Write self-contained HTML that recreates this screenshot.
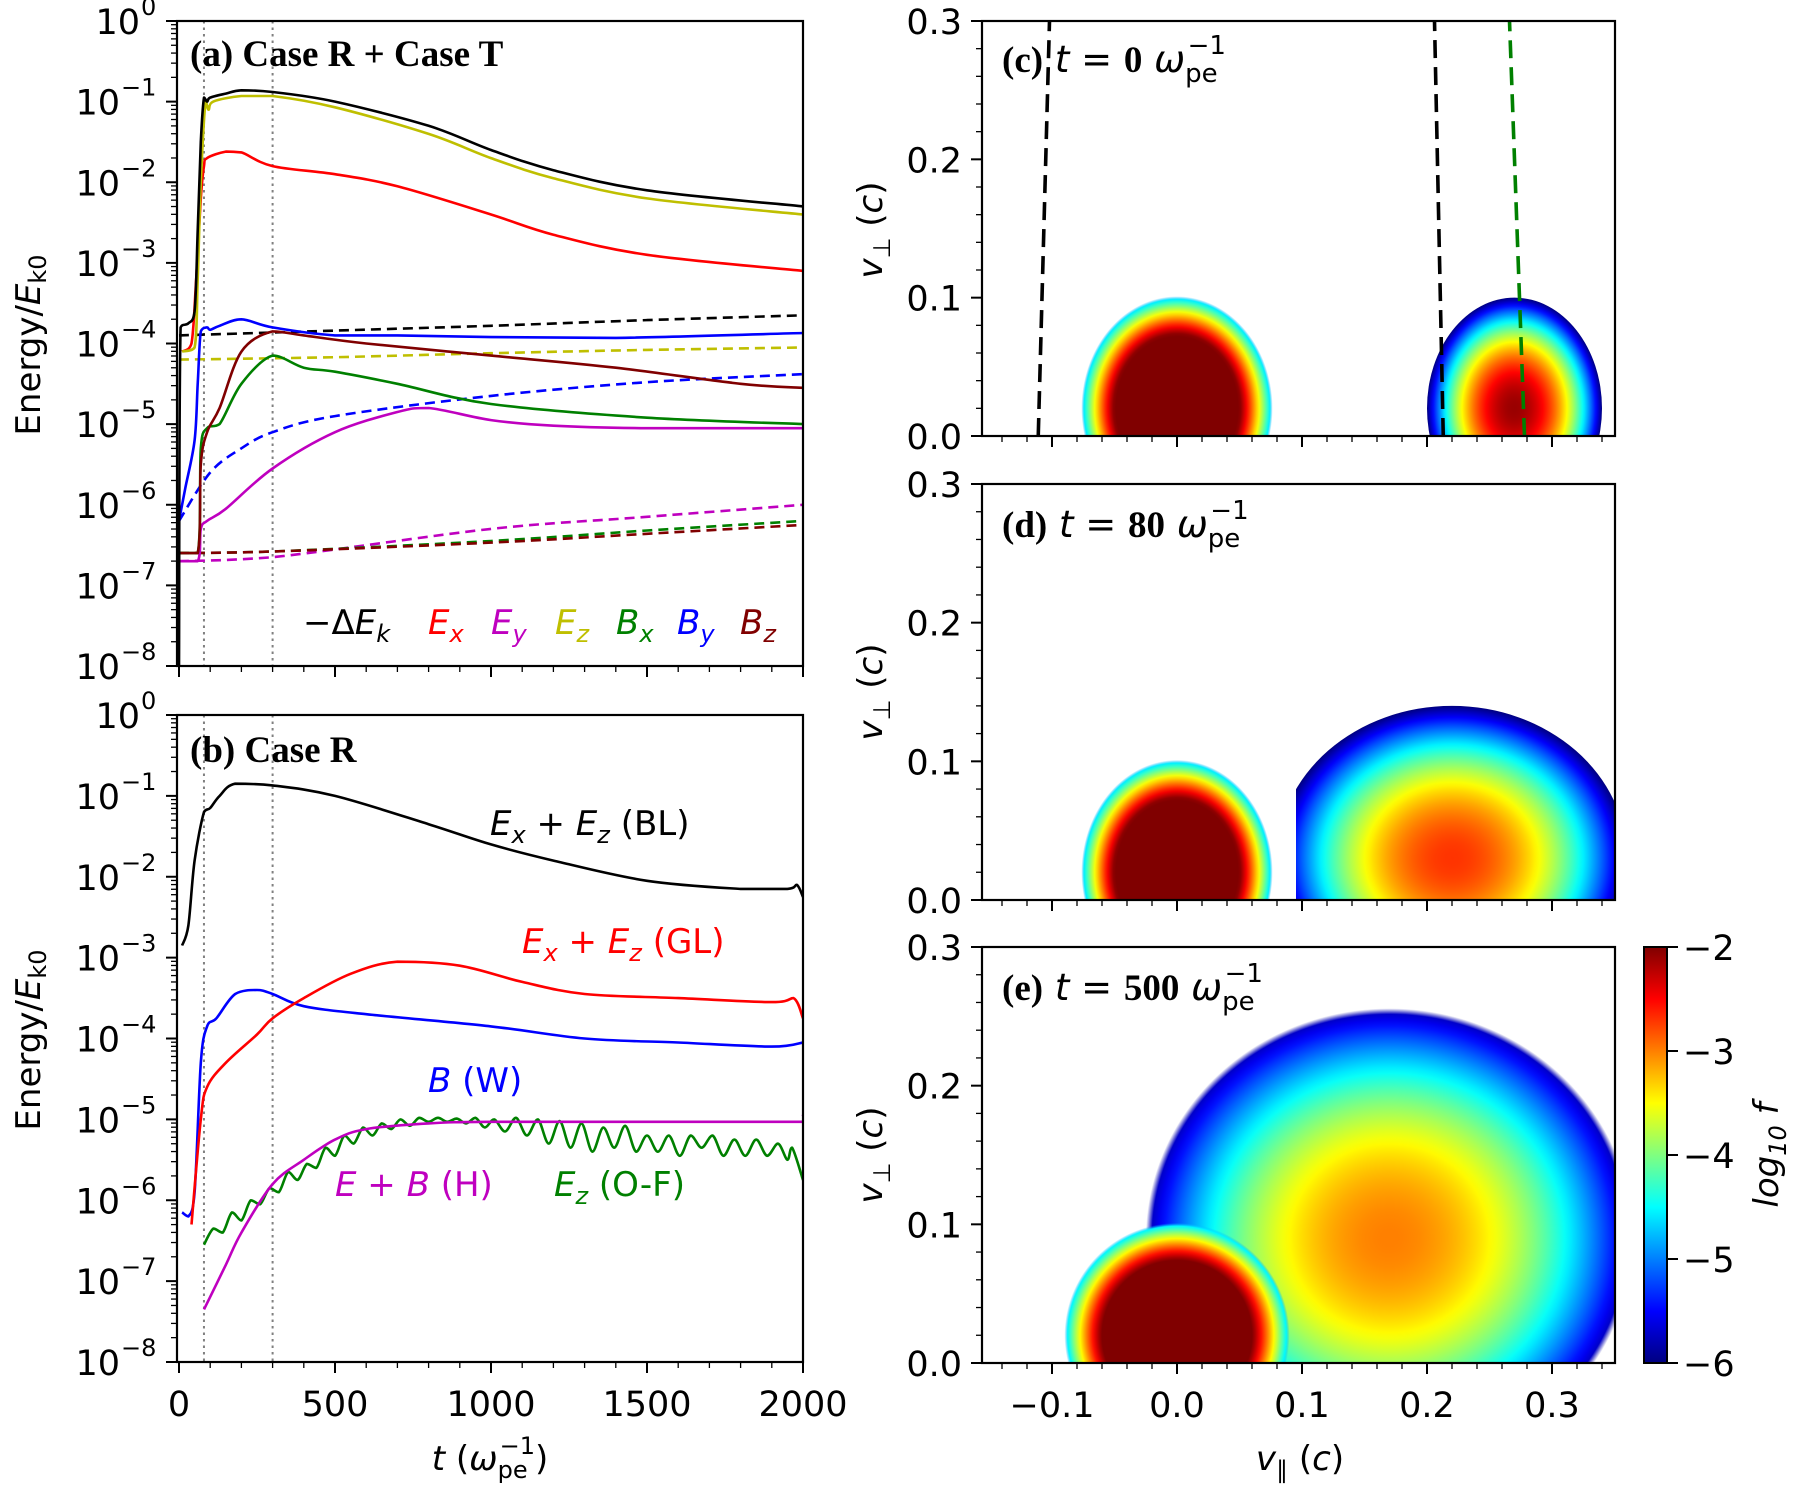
<!DOCTYPE html>
<html><head><meta charset="utf-8"><style>
html,body{margin:0;padding:0;background:#fff}
svg{display:block}
text{font-family:"DejaVu Sans","Liberation Sans",sans-serif}
.tl{font-size:35px}
.ex{font-size:24px}
.ttl{font-family:"Liberation Serif",serif;font-weight:bold;font-size:37px}
</style></head><body>
<svg id="fig" width="1800" height="1495" viewBox="0 0 1800 1495" xmlns="http://www.w3.org/2000/svg">
<defs>
<linearGradient id="jet" x1="0" y1="1" x2="0" y2="0">
<stop offset="0" stop-color="#000080"/><stop offset="0.125" stop-color="#0000ff"/><stop offset="0.375" stop-color="#00ffff"/><stop offset="0.625" stop-color="#ffff00"/><stop offset="0.875" stop-color="#ff0000"/><stop offset="1" stop-color="#800000"/>
</linearGradient>
<clipPath id="clipA"><rect x="177" y="21" width="626" height="645"/></clipPath>
<clipPath id="clipB"><rect x="177" y="715" width="626" height="647"/></clipPath>
<clipPath id="clipC"><rect x="982" y="21" width="633" height="415"/></clipPath>
<clipPath id="clipD"><rect x="982" y="484" width="633" height="416"/></clipPath>
<clipPath id="clipD2"><rect x="1296" y="484" width="319" height="416"/></clipPath>
<clipPath id="clipE"><rect x="982" y="947" width="633" height="416"/></clipPath>
</defs>
<g id="root"></g>
</svg>
<script>
// ---------- Panel (a) data: t and log10(Energy/Ek0) ----------
const tA_dEk=[0,5,30,50,60,70,80,90,100,150,200,300,500,800,1000,1200,1500,2000];
const vA_dEk=[-8,-3.8,-3.75,-3.6,-2.6,-1.5,-0.95,-1.0,-0.95,-0.9,-0.86,-0.88,-1.0,-1.3,-1.6,-1.85,-2.1,-2.3];
const tA_Ez=[10,50,60,70,85,95,110,200,300,500,800,1000,1200,1500,2000];
const vA_Ez=[-4.1,-4.05,-3.2,-2.0,-1.0,-1.1,-1.0,-0.93,-0.93,-1.07,-1.4,-1.7,-1.95,-2.2,-2.4];
const tA_Ex=[10,40,55,70,80,90,150,200,300,500,700,1000,1200,1500,2000];
const vA_Ex=[-4.1,-4.0,-3.2,-2.2,-1.8,-1.7,-1.62,-1.63,-1.8,-1.9,-2.05,-2.4,-2.65,-2.9,-3.1];
const tA_By=[0,20,50,60,70,90,100,130,200,300,500,700,1000,1400,2000];
const vA_By=[-6.2,-5.8,-5.2,-4.5,-3.85,-3.8,-3.83,-3.78,-3.7,-3.8,-3.9,-3.9,-3.92,-3.93,-3.87];
const tA_Bz=[0,60,70,90,130,200,300,400,600,1000,1400,1800,2000];
const vA_Bz=[-6.6,-6.6,-5.5,-5.1,-4.8,-4.1,-3.85,-3.9,-4.0,-4.15,-4.3,-4.5,-4.55];
const tA_Bx=[0,60,70,90,130,200,300,400,500,700,1000,1500,2000];
const vA_Bx=[-6.6,-6.6,-5.3,-5.05,-5.0,-4.5,-4.15,-4.3,-4.35,-4.5,-4.75,-4.92,-5.0];
const tA_Ey=[0,60,70,90,150,300,500,700,800,1000,1200,1500,2000];
const vA_Ey=[-6.7,-6.7,-6.3,-6.2,-6.05,-5.55,-5.1,-4.85,-4.8,-4.95,-5.02,-5.05,-5.05];
const tA_dEkT=[0,500,1000,1500,2000];
const vA_dEkT=[-3.9,-3.84,-3.78,-3.71,-3.65];
const tA_EzT=[0,500,1000,1500,2000];
const vA_EzT=[-4.2,-4.17,-4.12,-4.08,-4.05];
const tA_ByT=[0,100,200,300,500,1000,1500,2000];
const vA_ByT=[-6.2,-5.6,-5.3,-5.1,-4.9,-4.65,-4.48,-4.38];
const tA_EyT=[0,300,1000,1500,2000];
const vA_EyT=[-6.7,-6.65,-6.3,-6.15,-6.0];
const tA_BxT=[0,300,1000,1500,2000];
const vA_BxT=[-6.6,-6.58,-6.45,-6.32,-6.2];
const tA_BzT=[0,300,1000,1500,2000];
const vA_BzT=[-6.6,-6.58,-6.47,-6.36,-6.25];
// ---------- Panel (b) data ----------
const tB_BL=[10,30,50,80,100,130,180,300,500,800,1000,1200,1500,1800,1950,1980,2000];
const vB_BL=[-2.85,-2.6,-1.8,-1.2,-1.15,-1.0,-0.85,-0.87,-1.0,-1.35,-1.6,-1.8,-2.05,-2.15,-2.15,-2.1,-2.25];
const tB_GL=[40,70,90,150,250,300,400,550,700,900,1100,1300,1600,1900,1970,2000];
const vB_GL=[-6.3,-5.0,-4.6,-4.3,-3.95,-3.75,-3.5,-3.2,-3.05,-3.1,-3.3,-3.45,-3.5,-3.55,-3.5,-3.75];
const tB_W=[10,30,50,70,90,120,180,250,300,400,600,1000,1300,1600,1900,2000];
const vB_W=[-6.15,-6.2,-5.9,-4.3,-3.85,-3.75,-3.45,-3.4,-3.45,-3.6,-3.7,-3.85,-4.0,-4.05,-4.1,-4.05];
const tB_H=[80,150,200,300,400,500,600,800,1000,1500,1990,2000];
const vB_H=[-7.35,-6.8,-6.4,-5.8,-5.5,-5.25,-5.12,-5.05,-5.03,-5.03,-5.03,-4.95];
const tB_OF=[80,110,140,170,200,230,260,290,320,350,380,410,440,470,500,530,560,590,620,650,680,710,740,770,800,830,860,890,920,950,980,1010,1045,1080,1115,1150,1185,1220,1255,1290,1325,1360,1395,1430,1465,1500,1535,1570,1605,1640,1675,1710,1745,1780,1815,1850,1885,1920,1950,1965,2000];
const vB_OF=[-6.55,-6.35,-6.4,-6.15,-6.25,-6.0,-6.05,-5.85,-5.9,-5.65,-5.75,-5.55,-5.6,-5.35,-5.45,-5.2,-5.3,-5.1,-5.2,-5.05,-5.12,-5.0,-5.08,-4.98,-5.03,-4.98,-5.03,-4.99,-5.05,-4.98,-5.1,-5.0,-5.15,-4.98,-5.2,-5.0,-5.3,-5.02,-5.35,-5.05,-5.4,-5.1,-5.35,-5.08,-5.4,-5.2,-5.4,-5.2,-5.45,-5.2,-5.35,-5.2,-5.45,-5.25,-5.45,-5.25,-5.45,-5.3,-5.5,-5.35,-5.75];
const tDotted=[80,300];
const xTickT=[0,500,1000,1500,2000];
// ---------- Distribution blobs (c,d,e): centre, extents, core log f, floor ----------
const blobPanel=['c','c','d','d','e','e'];
const blobCx=[0,0.27,0,0.22,0.17,0];
const blobCy=[0.02,0.02,0.02,0.03,0.09,0.02];
const blobRx=[0.085,0.07,0.085,0.14,0.2,0.1];
const blobRy=[0.09,0.08,0.09,0.11,0.17,0.09];
const blobCore=[0.15,-2.1,0.15,-2.7,-3.0,0.3];
const blobFloor=[-4.7,-6,-4.7,-6,-5.8,-4.7];
// dashed resonance lines in (c)
const lineX0=[-0.111,0.213,0.278];
const lineX1=[-0.102,0.206,0.266];
const lineCol=['#000','#000','#008000'];
const vTicks=[-0.1,0,0.1,0.2,0.3];
const vpTicks=[0,0.1,0.2,0.3];
const cbTicks=[-2,-3,-4,-5,-6];

const NS='http://www.w3.org/2000/svg';
const root=document.getElementById('root');
function mk(tag,attrs,parent){const e=document.createElementNS(NS,tag);for(const k in attrs)e.setAttribute(k,attrs[k]);(parent||root).appendChild(e);return e;}

const AX={l:177,r:803,t0:179};
function tx(t){return AX.t0+t*(AX.r-AX.t0)/2000;}
function yLog(top,bot){return v=>top+(-v)*(bot-top)/8;}
const yA=yLog(21,666), yB=yLog(715,1362);

function clampv(v,a,b){const lo=Math.min(a,b),hi=Math.max(a,b);return Math.max(lo,Math.min(hi,v));}
function smoothPath(pts){
  let d='M'+pts[0][0].toFixed(1)+','+pts[0][1].toFixed(1);
  for(let i=0;i<pts.length-1;i++){
    const p0=pts[i-1]||pts[i],p1=pts[i],p2=pts[i+1],p3=pts[i+2]||p2;
    const c1=[p1[0]+(p2[0]-p0[0])/6,clampv(p1[1]+(p2[1]-p0[1])/6,p1[1],p2[1])];
    const c2=[p2[0]-(p3[0]-p1[0])/6,clampv(p2[1]-(p3[1]-p1[1])/6,p1[1],p2[1])];
    d+='C'+c1[0].toFixed(1)+','+c1[1].toFixed(1)+' '+c2[0].toFixed(1)+','+c2[1].toFixed(1)+' '+p2[0].toFixed(1)+','+p2[1].toFixed(1);
  }
  return d;
}
function series(ts,vs,yf,col,dash,clip,name){
  const pts=ts.map((t,i)=>[tx(t),yf(vs[i])]);
  const p=mk('path',{d:smoothPath(pts),fill:'none',stroke:col,'stroke-width':2.6,'stroke-linejoin':'round','clip-path':'url(#'+clip+')'});
  if(dash)p.setAttribute('stroke-dasharray','10,6');
  
  
}
function logAxis(top,bot,name){
  const yf=yLog(top,bot);
  const g=mk('g',{});
  
  
  for(let e=0;e>=-8;e--){
    const y=yf(e);
    mk('line',{x1:AX.l-11,x2:AX.l,y1:y,y2:y,stroke:'#000','stroke-width':2},g);
    const tt=mk('text',{x:e===0?140:120,y:y+13,'text-anchor':'end',class:'tl'},g);
    tt.textContent='10';
    const sp=mk('text',{x:e===0?141:121,y:y-6,class:'ex'},g);
    sp.textContent=e===0?'0':'\u2212'+(-e);
    if(e>-8)for(let m=2;m<10;m++){const ym=yf(e-1+Math.log10(m));mk('line',{x1:AX.l-6,x2:AX.l,y1:ym,y2:ym,stroke:'#000','stroke-width':1.3},g);}
  }
}
function tAxis(bot,labels,name){
  const g=mk('g',{});
  
  
  for(let t=0;t<=2000;t+=100){const x=tx(t);const maj=t%500===0;mk('line',{x1:x,x2:x,y1:bot,y2:bot+(maj?11:6),stroke:'#000','stroke-width':maj?2:1.3},g);}
  if(labels)xTickT.forEach(t=>{const tt=mk('text',{x:tx(t),y:bot+54,'text-anchor':'middle',class:'tl'},g);tt.textContent=t;});
}
function frame(x,y,w,h,name){const r=mk('rect',{x:x,y:y,width:w,height:h,fill:'none',stroke:'#000','stroke-width':2.2});}
function dotted(top,bot,clip){tDotted.forEach(t=>{const l=mk('line',{x1:tx(t),x2:tx(t),y1:top,y2:bot,stroke:'#808080','stroke-width':2,'stroke-dasharray':'2.5,4','clip-path':'url(#'+clip+')'});});}

// ---- Panel a ----
dotted(21,666,'clipA');
series(tA_dEkT,vA_dEkT,yA,'#000',true,'clipA','dEk-T-line');
series(tA_EzT,vA_EzT,yA,'#bfbf00',true,'clipA','Ez-T-line');
series(tA_ByT,vA_ByT,yA,'#0000ff',true,'clipA','By-T-line');
series(tA_EyT,vA_EyT,yA,'#bf00bf',true,'clipA','Ey-T-line');
series(tA_BxT,vA_BxT,yA,'#008000',true,'clipA','Bx-T-line');
series(tA_BzT,vA_BzT,yA,'#800000',true,'clipA','Bz-T-line');
series(tA_Ey,vA_Ey,yA,'#bf00bf',false,'clipA','Ey-line');
series(tA_Bx,vA_Bx,yA,'#008000',false,'clipA','Bx-line');
series(tA_Bz,vA_Bz,yA,'#800000',false,'clipA','Bz-line');
series(tA_By,vA_By,yA,'#0000ff',false,'clipA','By-line');
series(tA_Ex,vA_Ex,yA,'#ff0000',false,'clipA','Ex-line');
series(tA_Ez,vA_Ez,yA,'#bfbf00',false,'clipA','Ez-line');
series(tA_dEk,vA_dEk,yA,'#000',false,'clipA','dEk-line');
frame(177,21,626,645,'panel-a-frame');
logAxis(21,666,'panel-a-y-axis');
tAxis(666,false,'panel-a-x-axis');
// ---- Panel b ----
dotted(715,1362,'clipB');
series(tB_OF,vB_OF,yB,'#008000',false,'clipB','OF-line');
series(tB_H,vB_H,yB,'#bf00bf',false,'clipB','H-line');
series(tB_W,vB_W,yB,'#0000ff',false,'clipB','W-line');
series(tB_GL,vB_GL,yB,'#ff0000',false,'clipB','GL-line');
series(tB_BL,vB_BL,yB,'#000',false,'clipB','BL-line');
frame(177,715,626,647,'panel-b-frame');
logAxis(715,1362,'panel-b-y-axis');
tAxis(1362,true,'panel-b-x-axis');

// ---- Right panels ----
const P={c:[21,436,'clipC'],d:[484,900,'clipD'],e:[947,1363,'clipE']};
function vx(v){return 1177+v*1250;}
function vy(p,v){const [t,b]=P[p];return b-v/0.3*(b-t);}
const jet=[[0,[0,0,128]],[0.125,[0,0,255]],[0.375,[0,255,255]],[0.625,[255,255,0]],[0.875,[255,0,0]],[1,[128,0,0]]];
function jetCol(f){const u=Math.max(0,Math.min(1,(f+6)/4));for(let i=0;i<jet.length-1;i++){const[a,ca]=jet[i],[b,cb]=jet[i+1];if(u<=b){const s=(u-a)/(b-a);return 'rgb('+ca.map((c,k)=>Math.round(c+(cb[k]-c)*s)).join(',')+')';}}return 'rgb(128,0,0)';}
const defs=document.querySelector('defs');
blobCx.forEach((cx,i)=>{
  const p=blobPanel[i],core=blobCore[i],fl=blobFloor[i];
  const id='bg'+i;
  const g=mk('radialGradient',{id:id,cx:'0.5',cy:'0.5',r:'0.5'},defs);
  for(let k=0;k<=40;k++){const r=k/40;const f=core-r*r*(core+6);
    if(f<fl){mk('stop',{offset:r.toFixed(3),'stop-color':jetCol(f),'stop-opacity':0},g);break;}
    mk('stop',{offset:r.toFixed(3),'stop-color':jetCol(f)},g);}
  const ex=vx(cx),ey=vy(p,blobCy[i]);
  const rx=blobRx[i]*1250,ry=(vy(p,0)-vy(p,blobRy[i]));
  const clip=(p==='d'&&i===3)?'clipD2':P[p][2];
  const el=mk('ellipse',{cx:ex,cy:ey,rx:rx,ry:ry,fill:'url(#'+id+')','clip-path':'url(#'+clip+')'});
  
  
});
lineX0.forEach((x0,i)=>{
  const l=mk('line',{x1:vx(x0),y1:vy('c',0),x2:vx(lineX1[i]),y2:vy('c',0.3),stroke:lineCol[i],'stroke-width':3.6,'stroke-dasharray':'18,9','clip-path':'url(#clipC)'});
  
  
});
['c','d','e'].forEach(p=>{
  const [t,b]=P[p];
  frame(982,t,633,b-t,'panel-'+p+'-frame');
  const g=mk('g',{});
  
  
  for(let k=0;k<=15;k++){const v=k*0.02;const y=vy(p,v);const maj=k%5===0;mk('line',{x1:982-(maj?11:6),x2:982,y1:y,y2:y,stroke:'#000','stroke-width':maj?2:1.3},g);}
  vpTicks.forEach(v=>{const tt=mk('text',{x:962,y:vy(p,v)+13,'text-anchor':'end',class:'tl'},g);tt.textContent=v.toFixed(1);});
  for(let k=-7;k<=17;k++){const v=k*0.02;const x=vx(v);if(x<982||x>1616)continue;const maj=Math.abs(v*10-Math.round(v*10))<1e-6;mk('line',{x1:x,x2:x,y1:b,y2:b+(maj?11:6),stroke:'#000','stroke-width':maj?2:1.3},g);}
  if(p==='e')vTicks.forEach(v=>{const tt=mk('text',{x:vx(v),y:b+54,'text-anchor':'middle',class:'tl'},g);tt.textContent=(v<0?'\u2212':'')+Math.abs(v).toFixed(1);});
});
// colorbar
const cb=mk('rect',{x:1644,y:947,width:23,height:416,fill:'url(#jet)',stroke:'#000','stroke-width':2});


cbTicks.forEach(v=>{const y=947+(-2-v)/4*416;mk('line',{x1:1667,x2:1678,y1:y,y2:y,stroke:'#000','stroke-width':2});const tt=mk('text',{x:1683,y:y+13,class:'tl'});tt.textContent='\u2212'+(-v);});
</script>
<svg width="1800" height="1495" style="position:absolute;left:0;top:0" xmlns="http://www.w3.org/2000/svg">
<text class="ttl" x="190" y="66">(a) Case R + Case T</text>
<text class="ttl" x="190" y="762">(b) Case R</text>
<g font-size="34" font-style="italic">
<text x="303" y="634" fill="#000"><tspan font-style="normal">−Δ</tspan>E<tspan font-size="24" dy="8">k</tspan></text>
<text x="428" y="634" fill="#ff0000">E<tspan font-size="24" dy="8">x</tspan></text>
<text x="491" y="634" fill="#bf00bf">E<tspan font-size="24" dy="8">y</tspan></text>
<text x="555" y="634" fill="#bfbf00">E<tspan font-size="24" dy="8">z</tspan></text>
<text x="616" y="634" fill="#008000">B<tspan font-size="24" dy="8">x</tspan></text>
<text x="677" y="634" fill="#0000ff">B<tspan font-size="24" dy="8">y</tspan></text>
<text x="740" y="634" fill="#800000">B<tspan font-size="24" dy="8">z</tspan></text>
</g>
<g font-size="34">
<text x="490" y="835" fill="#000"><tspan font-style="italic">E</tspan><tspan font-size="24" font-style="italic" dy="8">x</tspan><tspan dy="-8"> + </tspan><tspan font-style="italic">E</tspan><tspan font-size="24" font-style="italic" dy="8">z</tspan><tspan dy="-8"> (BL)</tspan></text>
<text x="522" y="953" fill="#ff0000"><tspan font-style="italic">E</tspan><tspan font-size="24" font-style="italic" dy="8">x</tspan><tspan dy="-8"> + </tspan><tspan font-style="italic">E</tspan><tspan font-size="24" font-style="italic" dy="8">z</tspan><tspan dy="-8"> (GL)</tspan></text>
<text x="428" y="1092" fill="#0000ff"><tspan font-style="italic">B</tspan> (W)</text>
<text x="335" y="1196" fill="#bf00bf"><tspan font-style="italic">E</tspan> + <tspan font-style="italic">B</tspan> (H)</text>
<text x="554" y="1196" fill="#008000"><tspan font-style="italic">E</tspan><tspan font-size="24" font-style="italic" dy="8">z</tspan><tspan dy="-8"> (O-F)</tspan></text>
</g>
<text font-size="34" transform="translate(40,345) rotate(-90)" text-anchor="middle">Energy/<tspan font-style="italic">E</tspan><tspan font-size="24" dy="6">k0</tspan></text>
<text font-size="34" transform="translate(40,1040) rotate(-90)" text-anchor="middle">Energy/<tspan font-style="italic">E</tspan><tspan font-size="24" dy="6">k0</tspan></text>
<text font-size="34" x="490" y="1470" text-anchor="middle"><tspan font-style="italic">t</tspan> (<tspan font-style="italic">ω</tspan><tspan font-size="24" dy="8">pe</tspan><tspan font-size="24" dy="-24" dx="-28">−1</tspan><tspan dy="16">)</tspan></text>
<text font-size="34" x="1300" y="1470" text-anchor="middle"><tspan font-style="italic">v</tspan><tspan font-size="24" dy="8">∥</tspan><tspan dy="-8">  (</tspan><tspan font-style="italic">c</tspan>)</text>
<g font-size="34">
<text transform="translate(882,230) rotate(-90)" text-anchor="middle"><tspan font-style="italic">v</tspan><tspan font-size="24" dy="8">⊥</tspan><tspan dy="-8">  (</tspan><tspan font-style="italic">c</tspan>)</text>
<text transform="translate(882,692) rotate(-90)" text-anchor="middle"><tspan font-style="italic">v</tspan><tspan font-size="24" dy="8">⊥</tspan><tspan dy="-8">  (</tspan><tspan font-style="italic">c</tspan>)</text>
<text transform="translate(882,1155) rotate(-90)" text-anchor="middle"><tspan font-style="italic">v</tspan><tspan font-size="24" dy="8">⊥</tspan><tspan dy="-8">  (</tspan><tspan font-style="italic">c</tspan>)</text>
</g>
<text font-size="34" transform="translate(1778,1155) rotate(-90)" text-anchor="middle" font-style="italic">log<tspan font-size="24" dy="8">10</tspan><tspan dy="-8"> f</tspan></text>
<g font-size="37">
<text x="1002" y="72"><tspan class="ttl">(c)</tspan> <tspan font-style="italic">t</tspan>  =  <tspan class="ttl">0</tspan> <tspan font-style="italic">ω</tspan><tspan font-size="26" dy="10">pe</tspan><tspan font-size="26" dy="-28" dx="-30">−1</tspan></text>
<text x="1002" y="537"><tspan class="ttl">(d)</tspan> <tspan font-style="italic">t</tspan>  =  <tspan class="ttl">80</tspan> <tspan font-style="italic">ω</tspan><tspan font-size="26" dy="10">pe</tspan><tspan font-size="26" dy="-28" dx="-30">−1</tspan></text>
<text x="1002" y="1000"><tspan class="ttl">(e)</tspan> <tspan font-style="italic">t</tspan>  =  <tspan class="ttl">500</tspan> <tspan font-style="italic">ω</tspan><tspan font-size="26" dy="10">pe</tspan><tspan font-size="26" dy="-28" dx="-30">−1</tspan></text>
</g>
</svg>
</body></html>
